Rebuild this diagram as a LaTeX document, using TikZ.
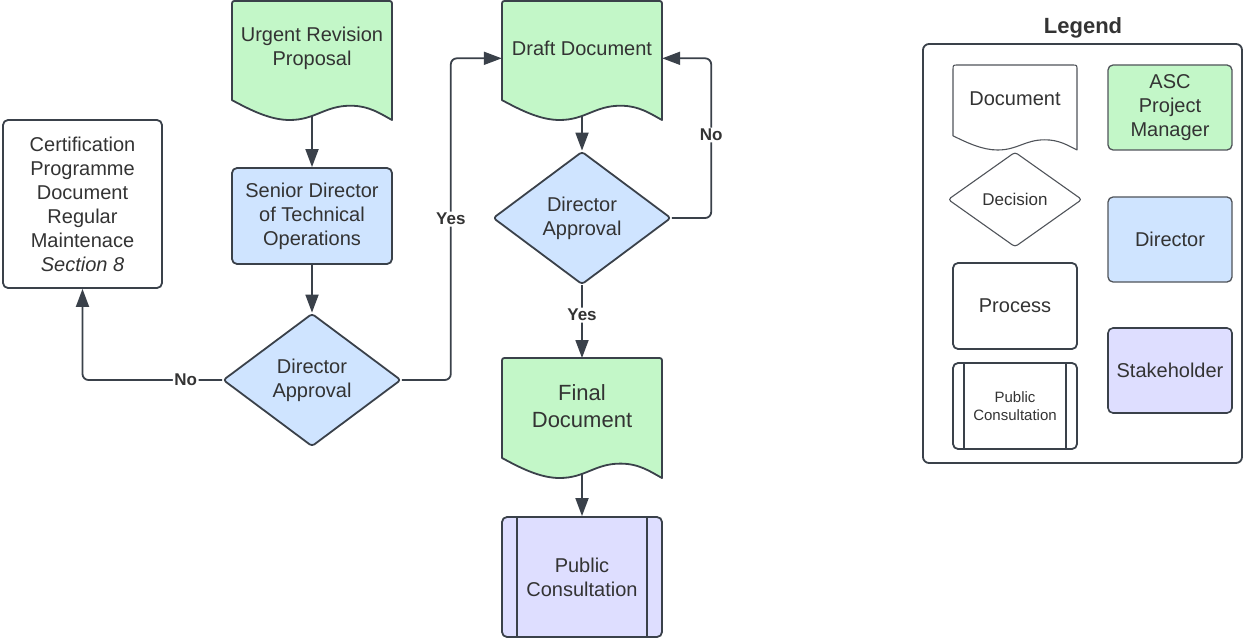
\documentclass[tikz,border=0pt]{standalone}
\usepackage{fontspec}
\setmainfont{Liberation Sans}
\usetikzlibrary{shapes.geometric,arrows.meta,calc}

\definecolor{docgreen}{RGB}{195,247,200}
\definecolor{dirblue}{RGB}{207,228,255}
\definecolor{stakepurple}{RGB}{222,222,255}
\definecolor{ink}{RGB}{58,65,74}
\definecolor{txt}{RGB}{51,51,51}
\definecolor{thinink}{RGB}{80,84,90}

\newcommand\fs[2]{\fontsize{#1}{#2}\selectfont}

% Document shape: rounded top corners, wavy bottom edge.
% #1 style, #2 name, #3 left, #4 top, #5 width, #6 height, #7 font, #8 text
\newcommand\docshape[8]{%
  \draw[#1] (#3,{#4+0.833*#6}) -- (#3,{#4+5}) .. controls (#3,#4) .. ({#3+5},#4)
    -- ({#3+#5-5},#4) .. controls ({#3+#5},#4) .. ({#3+#5},{#4+5})
    -- ({#3+#5},{#4+#6})
    .. controls ({#3+0.93*#5},{#4+0.95*#6}) and ({#3+0.86*#5},{#4+0.88*#6}) .. ({#3+0.74*#5},{#4+0.88*#6})
    .. controls ({#3+0.58*#5},{#4+0.88*#6}) and ({#3+0.52*#5},{#4+#6}) .. ({#3+0.36*#5},{#4+#6})
    .. controls ({#3+0.24*#5},{#4+#6}) and ({#3+0.12*#5},{#4+0.92*#6}) .. (#3,{#4+0.833*#6}) -- cycle;
  \node[frame, minimum width=#5, minimum height={0.96*#6}, anchor=north] (#2) at ({#3+0.5*#5},#4) {};
  \node[doctext, font=#7] (#2-text) at ({#3+0.5*#5},{#4+0.40*#6}) {#8};
}

\tikzset{
  shapeline/.style={draw=ink, line width=1.8pt, line join=round},
  greendoc/.style={shapeline, fill=docgreen},
  thindoc/.style={draw=thinink, line width=1.1pt, line join=round, fill=white},
  frame/.style={inner sep=0pt, draw=none},
  doctext/.style={align=center, text=txt, inner sep=0pt},
  box/.style={shapeline, rounded corners=5pt, minimum width=160, minimum height=96,
    align=center, text=txt, inner sep=0pt, font=\fs{20}{24}},
  decision/.style={diamond, shapeline, fill=dirblue, aspect=1.34, minimum width=178,
    minimum height=133, inner sep=0pt, rounded corners=3pt, align=center, text=txt,
    font=\fs{20}{24}},
  rolebox/.style={draw=thinink, line width=1.3pt, rounded corners=5pt, minimum width=124,
    minimum height=85, align=center, text=txt, inner sep=0pt, font=\fs{20}{24}},
  conn/.style={draw=ink, line width=1.8pt, rounded corners=6pt,
    -{Triangle[length=18pt,width=13pt]}},
  lbl/.style={fill=white, text=txt, font=\bfseries\fs{17}{20}, inner sep=1.5pt},
}

\begin{document}
\begin{tikzpicture}[x=1pt, y=-1pt]
\useasboundingbox (0,0) rectangle (1244,639);

% ---- main flow ----
\docshape{greendoc}{urgent}{232}{1}{160}{119}{\fs{20}{24}}{Urgent Revision\\Proposal}
\node[box, fill=dirblue] (senior) at (312,216) {Senior Director\\of Technical\\Operations};
\node[decision] (dec1) at (312,380) {Director\\Approval};
\node[box, minimum width=159, minimum height=168] (cert) at (82.5,204)
  {Certification\\Programme\\Document\\Regular\\Maintenace\\\textit{Section 8}};

\docshape{greendoc}{draft}{502}{1}{160}{119}{\fs{20}{24}}{Draft Document}
\node[decision] (dec2) at (582,218) {Director\\Approval};
\docshape{greendoc}{final}{502}{358}{160}{120}{\fs{22}{27}}{Final\\Document}
\node[box, fill=stakepurple, minimum height=120] (pub) at (582,577) {Public\\Consultation};
\draw[shapeline] ([xshift=16]pub.north west) -- ([xshift=16]pub.south west);
\draw[shapeline] ([xshift=-16]pub.north east) -- ([xshift=-16]pub.south east);

% ---- connectors ----
\draw[conn] (urgent.south) -- (senior.north);
\draw[conn] (senior.south) -- (dec1.north);
\draw[conn] (dec1.west) -| node[lbl, pos=0.13] {No} (cert.south);
\draw[conn] (dec1.east) -| node[lbl, pos=0.75] {Yes} ([xshift=-51]draft.west) -- (draft.west);
\draw[conn] (draft.south) -- (dec2.north);
\draw[conn] (dec2.east) -| node[lbl, pos=0.76] {No} ([xshift=49]draft.east) -- (draft.east);
\draw[conn] (dec2.south) -- node[lbl, pos=0.41] {Yes} (final.north);
\draw[conn] (final.south) -- (pub.north);

% ---- legend ----
\node[font=\bfseries\fs{22}{26}, text=txt] (legend-title) at (1083,28) {Legend};
\node[draw=ink, line width=1.8pt, rounded corners=6pt, minimum width=319,
  minimum height=419, inner sep=0pt] (legend) at (1082.5,253.5) {};

\docshape{thindoc}{lg-doc}{953}{65}{124}{85}{\fs{20}{24}}{Document}
\node[decision, draw=thinink, line width=1.1pt, fill=white, aspect=1.41,
  minimum width=134, minimum height=95, font=\fs{17}{20}] (lg-dec) at (1015,199.5) {Decision};
\node[box, minimum width=124, minimum height=86] (lg-proc) at (1015,306) {Process};
\node[box, minimum width=124, minimum height=86, font=\fs{15}{18}] (lg-pub) at (1015,406)
  {Public\\Consultation};
\draw[shapeline] ([xshift=12]lg-pub.north west) -- ([xshift=12]lg-pub.south west);
\draw[shapeline] ([xshift=-12]lg-pub.north east) -- ([xshift=-12]lg-pub.south east);

\node[rolebox, fill=docgreen] (lg-asc) at (1170,107.5) {ASC\\Project\\Manager};
\node[rolebox, fill=dirblue] (lg-dir) at (1170,239.5) {Director};
\node[rolebox, fill=stakepurple, draw=ink, line width=1.6pt] (lg-stake) at (1170,370.5) {Stakeholder};
\end{tikzpicture}
\end{document}
